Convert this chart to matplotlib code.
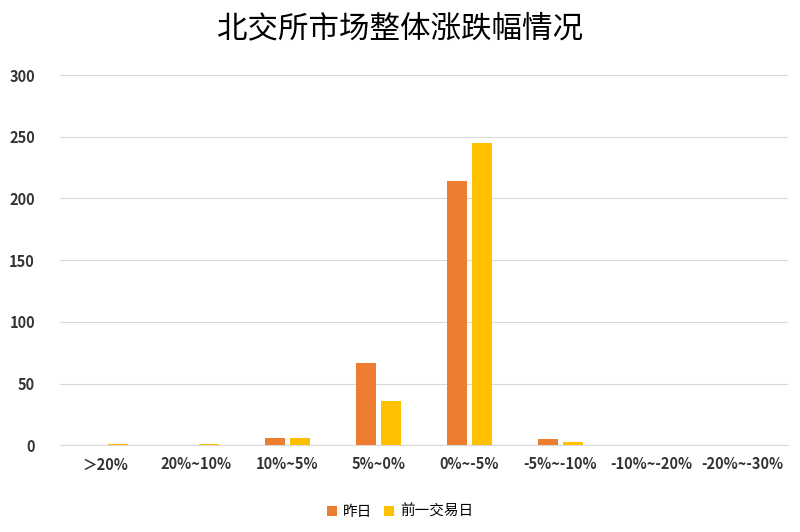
import matplotlib
matplotlib.use("Agg")
import matplotlib.pyplot as plt
import numpy as np

plt.rcParams['font.family'] = ['Noto Sans CJK SC', 'DejaVu Sans']

categories = ['＞20%', '20%~10%', '10%~5%', '5%~0%', '0%~-5%', '-5%~-10%', '-10%~-20%', '-20%~-30%']
yesterday = [0, 0, 6, 67, 214, 5, 0, 0]
prev_day = [1, 1, 6, 36, 245, 3, 0, 0]
series_names = ['昨日', '前一交易日']

fig = plt.figure(figsize=(8, 5.32), dpi=100)
ax = fig.add_axes([0.075, 0.163, 0.91, 0.696])
x = np.arange(len(categories))
w = 0.22
ax.bar(x - w/2 - 0.03, yesterday, w, color='#ED7D31', label=series_names[0], zorder=3)
ax.bar(x + w/2 + 0.03, prev_day, w, color='#FFC000', label=series_names[1], zorder=3)
ax.set_ylim(0, 300)
ax.set_yticks(range(0, 301, 50))
ax.set_xlim(-0.5, 7.5)
ax.set_xticks(x)
ax.set_xticklabels(categories, fontsize=10.5, fontweight='bold', color='#333333')
ax.tick_params(axis='y', labelsize=10.5, length=0, colors='#333333', pad=18)
ax.tick_params(axis='x', length=0, pad=8)
for l in ax.get_yticklabels():
    l.set_fontweight('bold')
ax.grid(axis='y', color='#D9D9D9', linewidth=0.8, zorder=0)
for s in ['top', 'right', 'left']:
    ax.spines[s].set_visible(False)
ax.spines['bottom'].set_color('#D9D9D9')
fig.suptitle('北交所市场整体涨跌幅情况', fontsize=22, y=0.975)
fig.legend(loc='lower center', ncol=2, frameon=False, fontsize=10.5,
           bbox_to_anchor=(0.5, 0.0), handlelength=0.7, handleheight=0.7, columnspacing=0.8, handletextpad=0.4)
fig.savefig('out.png', dpi=100)
